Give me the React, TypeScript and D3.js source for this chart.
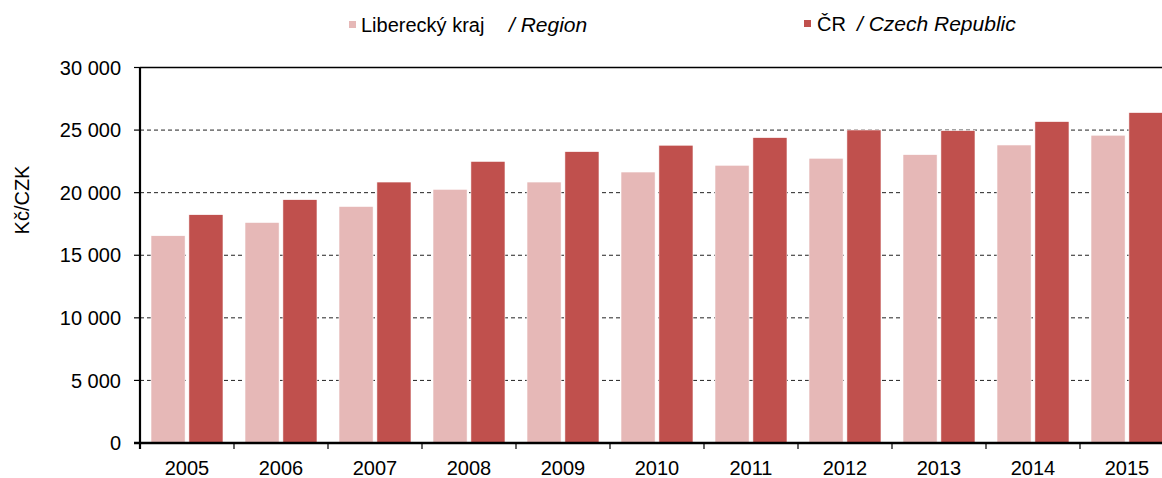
import { useEffect, useRef } from 'react'
import * as d3 from 'd3'

const YEARS = ['2005', '2006', '2007', '2008', '2009', '2010', '2011', '2012', '2013', '2014', '2015']
const REGION = [16560, 17620, 18900, 20270, 20850, 21650, 22190, 22750, 23040, 23810, 24590]
const CZECH = [18240, 19440, 20850, 22500, 23280, 23790, 24400, 25010, 24960, 25680, 26400]
const Y_TICKS = [0, 5000, 10000, 15000, 20000, 25000, 30000]
const SERIES = ['region', 'czech']

const COLORS: Record<string, string> = { region: '#e6b8b7', czech: '#c0504d' }
const FONT = '"Liberation Sans", Arial, sans-serif'

export default function App() {
  const ref = useRef<SVGSVGElement>(null)

  useEffect(() => {
    const svg = d3.select(ref.current)
    svg.selectAll('*').remove()

    const left = 140
    const right = 1174
    const top = 67.5
    const bottom = 443

    const x = d3.scaleBand().domain(YEARS).range([left, right]).paddingInner(0)
    const xs = d3.scaleBand().domain(SERIES).range([11, x.bandwidth() - 11]).paddingInner(0.1)
    const y = d3.scaleLinear().domain([0, 30000]).range([bottom, top])
    const fmt = d3.formatLocale({ thousands: ' ', grouping: [3], decimal: ',', currency: ['', ''] }).format(',d')

    // gridlines behind bars
    svg.append('g')
      .selectAll('line')
      .data(Y_TICKS.filter((t) => t > 0 && t < 30000))
      .enter()
      .append('line')
      .attr('x1', left)
      .attr('x2', right)
      .attr('y1', (d) => y(d))
      .attr('y2', (d) => y(d))
      .attr('stroke', '#222')
      .attr('stroke-width', 1)
      .attr('stroke-dasharray', '4,3')

    svg.append('line')
      .attr('x1', left)
      .attr('x2', right)
      .attr('y1', y(30000))
      .attr('y2', y(30000))
      .attr('stroke', '#000')
      .attr('stroke-width', 1.5)

    const rows = YEARS.map((yr, i) => ({ yr, region: REGION[i], czech: CZECH[i] }))
    const groups = svg.append('g')
      .selectAll('g')
      .data(rows)
      .enter()
      .append('g')
      .attr('transform', (d) => `translate(${x(d.yr)},0)`)

    groups.selectAll('rect')
      .data((d) => SERIES.map((k) => ({ k, v: (d as any)[k] as number })))
      .enter()
      .append('rect')
      .attr('x', (d) => xs(d.k)!)
      .attr('width', xs.bandwidth())
      .attr('y', (d) => y(d.v))
      .attr('height', (d) => y(0) - y(d.v))
      .attr('fill', (d) => COLORS[d.k])
      .attr('stroke', '#fff')
      .attr('stroke-width', 0.6)

    // y axis
    const yAxis = svg.append('g').attr('transform', `translate(${left},0)`)
    yAxis.append('line')
      .attr('x1', 0).attr('x2', 0)
      .attr('y1', top).attr('y2', bottom + 6)
      .attr('stroke', '#000').attr('stroke-width', 2.2)
    yAxis.selectAll('line.tick')
      .data(Y_TICKS)
      .enter()
      .append('line')
      .attr('class', 'tick')
      .attr('x1', -6).attr('x2', 0)
      .attr('y1', (d) => y(d)).attr('y2', (d) => y(d))
      .attr('stroke', '#000').attr('stroke-width', 1.2)
    yAxis.selectAll('text')
      .data(Y_TICKS)
      .enter()
      .append('text')
      .attr('x', -19)
      .attr('y', (d) => y(d))
      .attr('dy', '0.36em')
      .attr('text-anchor', 'end')
      .attr('font-family', FONT)
      .attr('font-size', 20)
      .attr('fill', '#000')
      .text((d) => fmt(d))

    svg.append('text')
      .attr('transform', 'translate(29,200) rotate(-90)')
      .attr('text-anchor', 'middle')
      .attr('font-family', FONT)
      .attr('font-size', 20)
      .attr('fill', '#000')
      .text('Kč/CZK')

    // x axis
    const xAxis = svg.append('g').attr('transform', `translate(0,${bottom})`)
    xAxis.append('line')
      .attr('x1', left - 6).attr('x2', right)
      .attr('stroke', '#000').attr('stroke-width', 2.4)
    xAxis.selectAll('line.tick')
      .data(YEARS.concat(['end']))
      .enter()
      .append('line')
      .attr('class', 'tick')
      .attr('x1', (d, i) => left + i * x.step())
      .attr('x2', (d, i) => left + i * x.step())
      .attr('y1', 0).attr('y2', 6)
      .attr('stroke', '#000').attr('stroke-width', 1.2)
    xAxis.selectAll('text')
      .data(YEARS)
      .enter()
      .append('text')
      .attr('x', (d) => x(d)! + x.bandwidth() / 2)
      .attr('y', 32)
      .attr('text-anchor', 'middle')
      .attr('font-family', FONT)
      .attr('font-size', 20)
      .attr('fill', '#000')
      .text((d) => d)

    // legend
    const legend = [
      { k: 'region', sx: 349, tx: 361, label: 'Liberecký kraj', ix: 509, en: '/ Region', base: 32 },
      { k: 'czech', sx: 804, tx: 817, label: 'ČR', ix: 857, en: '/ Czech Republic', base: 31 },
    ]
    const lg = svg.append('g')
    legend.forEach((l) => {
      lg.append('rect')
        .attr('x', l.sx).attr('y', l.base - 11)
        .attr('width', 7).attr('height', 7)
        .attr('fill', COLORS[l.k])
      lg.append('text')
        .attr('x', l.tx).attr('y', l.base)
        .attr('font-family', FONT).attr('font-size', 20).attr('fill', '#000')
        .text(l.label)
      lg.append('text')
        .attr('x', l.ix).attr('y', l.base)
        .attr('font-family', FONT).attr('font-size', 21).attr('font-style', 'italic').attr('fill', '#000')
        .text(l.en)
    })
  }, [])

  return (
    <svg
      ref={ref}
      width={1162}
      height={478}
      style={{ position: 'absolute', left: 0, top: 0, background: '#fff' }}
    />
  )
}
